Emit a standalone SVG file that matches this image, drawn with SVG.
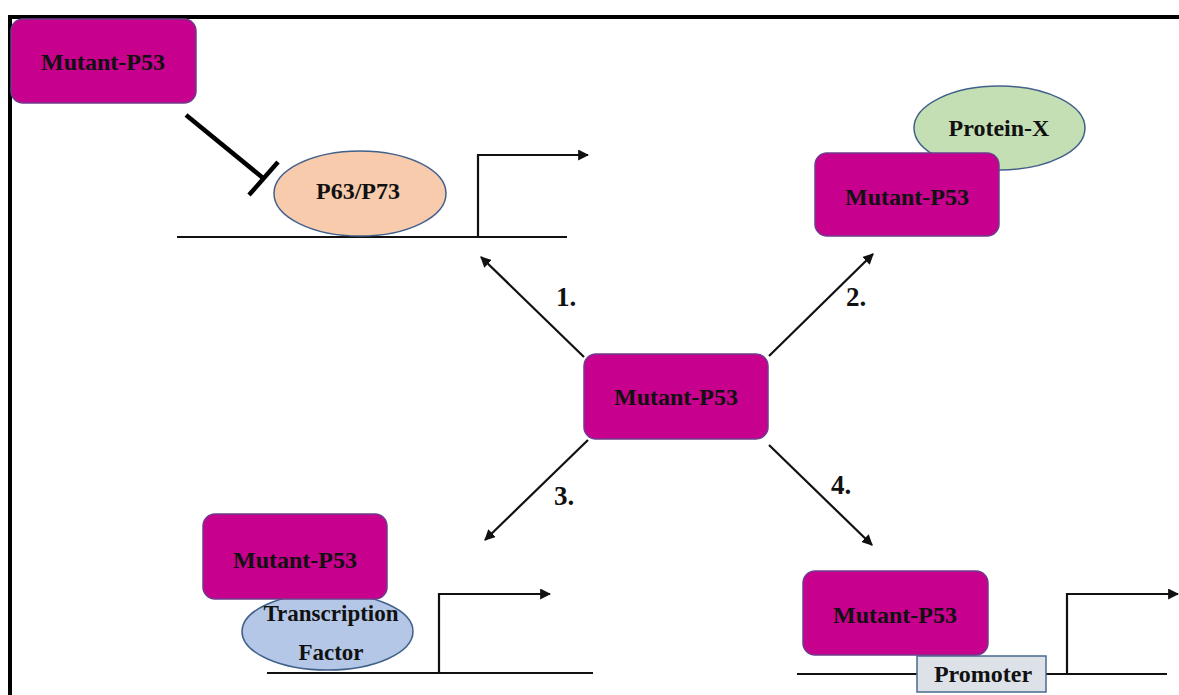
<svg xmlns="http://www.w3.org/2000/svg" width="1179" height="695" viewBox="0 0 1179 695">
<defs>
<style>
.box{fill:#C8008E;stroke:#6E3C8C;stroke-width:1.5}
.lbl{font-family:"Liberation Serif","Times New Roman",serif;font-weight:bold;font-size:24px;fill:#111;text-anchor:middle}
.num{font-family:"Liberation Serif","Times New Roman",serif;font-weight:bold;font-size:27px;fill:#111;text-anchor:middle}
.dna{stroke:#111;stroke-width:2.2;fill:none}
.arr{stroke:#111;stroke-width:2.2;fill:none;marker-end:url(#ah)}
</style>
<marker id="ah" viewBox="0 0 10 10" refX="9" refY="5" markerWidth="5" markerHeight="5" orient="auto" markerUnits="strokeWidth">
<path d="M0,0 L10,5 L0,10 z" fill="#111"/>
</marker>
</defs>
<rect width="1179" height="695" fill="#fff"/>
<g id="frame">
<line x1="8" y1="17" x2="1179" y2="17" stroke="#000" stroke-width="4"/>
<line x1="10" y1="15" x2="10" y2="695" stroke="#000" stroke-width="4"/>
</g>

<g id="dna1">
<line class="dna" x1="177" y1="237" x2="567" y2="237"/>
<path class="arr" d="M478,237 V155 H588"/>
</g>
<g id="dna3">
<line class="dna" x1="267" y1="673" x2="593" y2="673"/>
<path class="arr" d="M439,673 V594 H550"/>
</g>
<g id="dna4">
<line class="dna" x1="797" y1="674" x2="1167" y2="674"/>
<path class="arr" d="M1067,674 V594 H1178"/>
</g>

<g id="connectors">
<line class="arr" x1="584" y1="357" x2="481" y2="257"/>
<line class="arr" x1="769" y1="356" x2="873" y2="254"/>
<line class="arr" x1="588" y1="440" x2="485" y2="540"/>
<line class="arr" x1="769" y1="445" x2="872" y2="545"/>
<g id="inhibit" stroke="#000" stroke-width="4.5" stroke-linecap="butt">
<line x1="186" y1="115" x2="263" y2="178"/>
<line x1="249" y1="195" x2="278" y2="162"/>
</g>
</g>

<g id="labels">
<text class="num" x="566" y="306">1.</text>
<text class="num" x="856" y="306">2.</text>
<text class="num" x="564" y="505">3.</text>
<text class="num" x="841" y="494">4.</text>
</g>

<g id="node-mutant-tl">
<rect class="box" x="11" y="19" width="185" height="84" rx="12"/>
<text class="lbl" x="103" y="70">Mutant-P53</text>
</g>

<g id="node-p63">
<ellipse cx="360" cy="193.5" rx="86" ry="42.5" fill="#F8CBAD" stroke="#41608A" stroke-width="1.5"/>
<text class="lbl" x="358" y="199">P63/P73</text>
</g>

<g id="node-proteinx">
<ellipse cx="999.5" cy="128" rx="85.5" ry="42" fill="#C5DFB4" stroke="#41608A" stroke-width="1.5"/>
<text class="lbl" x="999" y="136">Protein-X</text>
</g>
<g id="node-mutant-tr">
<rect class="box" x="815" y="153" width="184" height="83" rx="12"/>
<text class="lbl" x="907" y="205">Mutant-P53</text>
</g>

<g id="node-mutant-center">
<rect class="box" x="584" y="354" width="184" height="85" rx="12"/>
<text class="lbl" x="676" y="405">Mutant-P53</text>
</g>

<g id="node-tf">
<ellipse cx="327.5" cy="631.5" rx="85.5" ry="38.5" fill="#B4C7E7" stroke="#41608A" stroke-width="1.5"/>
<text class="lbl" x="331" y="621" style="font-size:23px">Transcription</text>
<text class="lbl" x="331" y="660" style="font-size:23px">Factor</text>
</g>
<g id="node-mutant-bl">
<rect class="box" x="203" y="514" width="184" height="85" rx="12"/>
<text class="lbl" x="295" y="568">Mutant-P53</text>
</g>

<g id="node-promoter">
<rect x="917" y="656" width="129" height="36" fill="#DDE2E9" stroke="#4A6A90" stroke-width="1.5"/>
<text class="lbl" x="983" y="682">Promoter</text>
</g>
<g id="node-mutant-br">
<rect class="box" x="803" y="571" width="185" height="84" rx="12"/>
<text class="lbl" x="895" y="623">Mutant-P53</text>
</g>
</svg>
